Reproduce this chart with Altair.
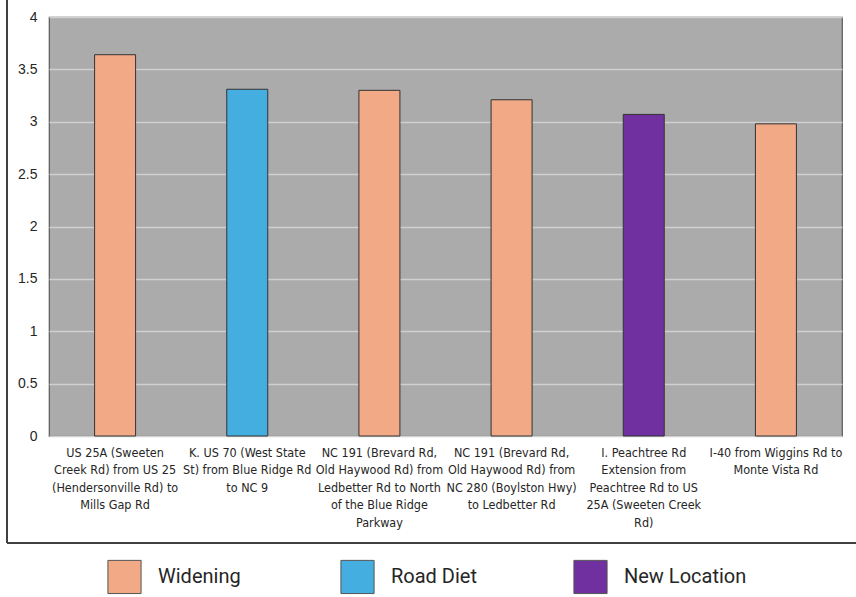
import altair as alt
import pandas as pd

projects = [
    "US 25A (Sweeten|Creek Rd) from US 25|(Hendersonville Rd) to|Mills Gap Rd",
    "K. US 70 (West State|St) from Blue Ridge Rd|to NC 9",
    "NC 191 (Brevard Rd,|Old Haywood Rd) from|Ledbetter Rd to North|of the Blue Ridge|Parkway",
    "NC 191 (Brevard Rd,|Old Haywood Rd) from|NC 280 (Boylston Hwy)|to Ledbetter Rd",
    "I. Peachtree Rd|Extension from|Peachtree Rd to US|25A (Sweeten Creek|Rd)",
    "I-40 from Wiggins Rd to|Monte Vista Rd",
]
scores = [3.64, 3.31, 3.30, 3.21, 3.07, 2.98]
types = ["Widening", "Road Diet", "Widening", "Widening", "New Location", "Widening"]

type_order = ["Widening", "Road Diet", "New Location"]
type_colors = ["#F2A985", "#45AEE0", "#7030A0"]

df = pd.DataFrame({"project": projects, "score": scores, "type": types})

FONT = "Roboto"
NARROW = "'DejaVu Sans Condensed', Roboto, sans-serif"

bars = alt.Chart(df).mark_bar(size=41, stroke="#333333", strokeWidth=1).encode(
    x=alt.X("project:N", sort=projects, title=None,
            scale=alt.Scale(paddingInner=0, paddingOuter=0),
            axis=alt.Axis(labelExpr="split(datum.label, '|')", labelAngle=0,
                          labelFontSize=12.5, labelColor="#262626", labelFont=NARROW,
                          labelLineHeight=17.5, labelPadding=10, ticks=False,
                          domain=False, labelBaseline="top")),
    y=alt.Y("score:Q", title=None,
            scale=alt.Scale(domain=[0, 4], nice=False),
            axis=alt.Axis(values=[0, 0.5, 1, 1.5, 2, 2.5, 3, 3.5, 4], format="~g",
                          labelFontSize=14, labelColor="#262626", labelFont="Liberation Sans",
                          labelPadding=12, ticks=False, domain=False,
                          gridColor="#D0D0D0", gridWidth=1.5)),
    color=alt.Color("type:N", scale=alt.Scale(domain=type_order, range=type_colors),
                    legend=alt.Legend(title=None, orient="none", direction="horizontal",
                                      legendX=58, legendY=542,
                                      symbolType="square", symbolSize=1100,
                                      symbolStrokeColor="#555555", symbolStrokeWidth=1,
                                      symbolOpacity=1,
                                      labelFontSize=20, labelFont=FONT, labelColor="#262626",
                                      labelOffset=16, columnPadding=57,
                                      gridAlign="all", labelLimit=300)),
)

frame_left = alt.Chart(df).mark_rule(color="#404040", strokeWidth=1.5).encode(
    x=alt.value(-42), y=alt.value(-17), y2=alt.value(526))
frame_bottom = alt.Chart(df).mark_rule(color="#404040", strokeWidth=1.5).encode(
    x=alt.value(-42), x2=alt.value(808), y=alt.value(526))

chart = alt.layer(bars, frame_left, frame_bottom).properties(
    width=793, height=419,
    padding={"left": 49, "top": 17, "right": 14, "bottom": 161},
    autosize=alt.AutoSizeParams(type="none"),
    background="white",
).configure_view(
    fill="#ABABAB", stroke="#595959", strokeWidth=1.2
)

chart.save("out.html", embed_options={"renderer": "svg", "actions": False})
